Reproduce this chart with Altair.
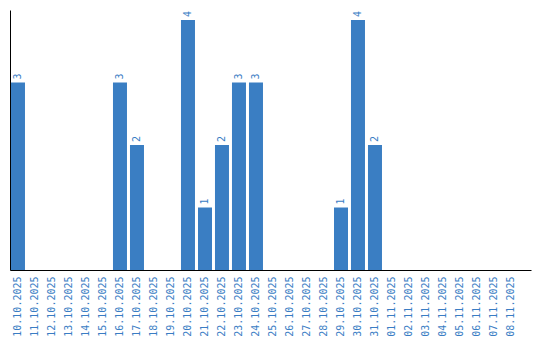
import altair as alt
import pandas as pd

dates = ["10.10.2025", "11.10.2025", "12.10.2025", "13.10.2025", "14.10.2025",
         "15.10.2025", "16.10.2025", "17.10.2025", "18.10.2025", "19.10.2025",
         "20.10.2025", "21.10.2025", "22.10.2025", "23.10.2025", "24.10.2025",
         "25.10.2025", "26.10.2025", "27.10.2025", "28.10.2025", "29.10.2025",
         "30.10.2025", "31.10.2025", "01.11.2025", "02.11.2025", "03.11.2025",
         "04.11.2025", "05.11.2025", "06.11.2025", "07.11.2025", "08.11.2025"]
counts = [3, 0, 0, 0, 0, 0, 3, 2, 0, 0,
          4, 1, 2, 3, 3, 0, 0, 0, 0, 1,
          4, 2, 0, 0, 0, 0, 0, 0, 0, 0]

df = pd.DataFrame({"date": dates, "count": counts})
df["label"] = df["count"].apply(lambda v: str(v) if v > 0 else "")

BLUE = "#3a7ec3"
TXT = "#3a7dc4"
FONT = "DejaVu Sans Mono"

x = alt.X("date:N", sort=dates, title=None,
          scale=alt.Scale(paddingInner=0.176, paddingOuter=0.4115, align=0.07),
          axis=alt.Axis(labelAngle=-90, labelFont=FONT, labelFontSize=10,
                        labelColor=TXT, ticks=False, domainColor="#000000",
                        domainWidth=1, labelPadding=6, grid=False))
y = alt.Y("count:Q", title=None,
          scale=alt.Scale(domain=[0, 4.16], nice=False),
          axis=alt.Axis(labels=False, ticks=False, grid=False,
                        domainColor="#000000", domainWidth=1))

bars = alt.Chart(df).mark_bar(color=BLUE).encode(x=x, y=y)
text = alt.Chart(df).mark_text(angle=270, align="left", baseline="middle",
                               dx=3, font=FONT, fontSize=10, color=TXT).encode(
    x=alt.X("date:N", sort=dates), y="count:Q", text="label:N")

chart = alt.layer(bars, text).properties(
    width=521, height=260,
    background="white",
    autosize=alt.AutoSizeParams(type="none"),
    padding={"left": 10, "top": 10, "right": 9, "bottom": 70},
).configure_view(strokeWidth=0, stroke="transparent")

chart.save("out.html", embed_options={"renderer": "svg", "actions": False})
